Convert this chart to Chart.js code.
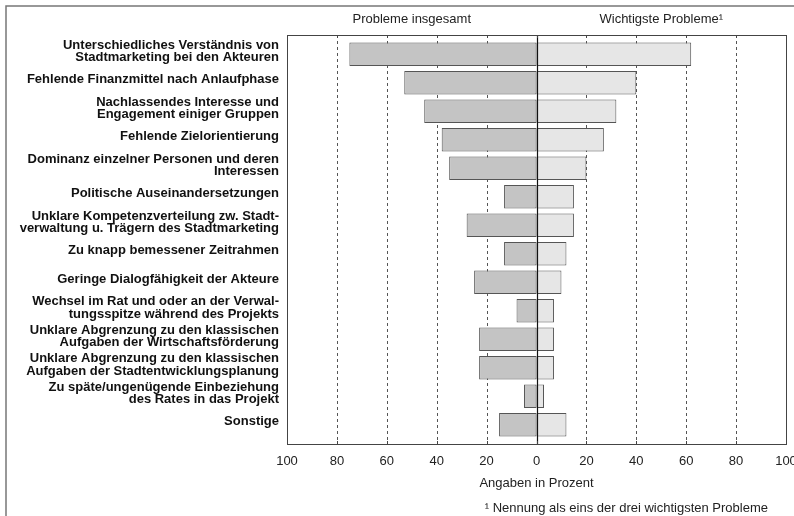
<!DOCTYPE html>
<html>
<head>
<meta charset="utf-8">
<script src="https://cdn.jsdelivr.net/npm/chart.js@4"></script>
<style>
  html, body { margin: 0; padding: 0; background: #fff; }
  #wrap { width: 794px; height: 516px; position: relative; }
</style>
</head>
<body>
<div id="wrap"><canvas id="myChart" width="794" height="516"></canvas></div>
<script>
// categories (multi-line labels as in the original)
const problems = [
    ['Unterschiedliches Verständnis von', 'Stadtmarketing bei den Akteuren'],
    'Fehlende Finanzmittel nach Anlaufphase',
    ['Nachlassendes Interesse und', 'Engagement einiger Gruppen'],
    'Fehlende Zielorientierung',
    ['Dominanz einzelner Personen und deren', 'Interessen'],
    'Politische Auseinandersetzungen',
    ['Unklare Kompetenzverteilung zw. Stadt-', 'verwaltung u. Trägern des Stadtmarketing'],
    'Zu knapp bemessener Zeitrahmen',
    'Geringe Dialogfähigkeit der Akteure',
    ['Wechsel im Rat und oder an der Verwal-', 'tungsspitze während des Projekts'],
    ['Unklare Abgrenzung zu den klassischen', 'Aufgaben der Wirtschaftsförderung'],
    ['Unklare Abgrenzung zu den klassischen', 'Aufgaben der Stadtentwicklungsplanung'],
    ['Zu späte/ungenügende Einbeziehung', 'des Rates in das Projekt'],
    'Sonstige'
];

// percentages
const insgesamt = [75, 53, 45, 38, 35, 13, 28, 13, 25, 8, 23, 23, 5, 15];
const wichtigste = [62, 40, 32, 27, 20, 15, 15, 12, 10, 7, 7, 7, 3, 12];

const xTicks = [-100, -80, -60, -40, -20, 0, 20, 40, 60, 80, 100];

const headerLeft = 'Probleme insgesamt';
const headerRight = 'Wichtigste Probleme¹';
const axisTitle = 'Angaben in Prozent';
const footnote = '¹ Nennung als eins der drei wichtigsten Probleme';

const FONT = '"Liberation Sans", Arial, sans-serif';

// frame, grid and texts drawn around the plot
const decoPlugin = {
    id: 'deco',
    beforeDatasetsDraw(chart) {
        const c = chart.ctx;
        const xs = chart.scales.x;
        const area = chart.chartArea;
        const top = area.top - 5, bottom = area.bottom + 5;
        c.save();
        // dashed grid
        c.strokeStyle = '#555';
        c.lineWidth = 1;
        c.setLineDash([3, 3]);
        xTicks.forEach(v => {
            if (v === 0 || Math.abs(v) === 100) return;
            const x = Math.round(xs.getPixelForValue(v)) + 0.5;
            c.beginPath();
            c.moveTo(x, top);
            c.lineTo(x, bottom);
            c.stroke();
        });
        c.restore();
    },
    afterDatasetsDraw(chart) {
        const c = chart.ctx;
        const xs = chart.scales.x;
        const area = chart.chartArea;
        const top = area.top - 5, bottom = area.bottom + 5;
        c.save();
        // zero line
        const x0 = Math.round(xs.getPixelForValue(0)) + 0.5;
        c.strokeStyle = '#111';
        c.lineWidth = 1.2;
        c.beginPath();
        c.moveTo(x0, top);
        c.lineTo(x0, bottom);
        c.stroke();
        // plot box
        c.strokeStyle = '#444';
        c.lineWidth = 1;
        c.strokeRect(Math.round(area.left) + 0.5, top + 0.5, Math.round(area.right - area.left), bottom - top);
        // small ticks at top and bottom
        xTicks.forEach(v => {
            const x = Math.round(xs.getPixelForValue(v)) + 0.5;
            c.beginPath();
            c.moveTo(x, top);
            c.lineTo(x, top + 3);
            c.moveTo(x, bottom);
            c.lineTo(x, bottom - 3);
            c.stroke();
        });
        // outer frame (open at right and bottom)
        c.strokeStyle = '#777';
        c.lineWidth = 1.5;
        c.beginPath();
        c.moveTo(6, 516);
        c.lineTo(6, 6);
        c.lineTo(794, 6);
        c.stroke();
        // headers
        c.fillStyle = '#222';
        c.font = '13px ' + FONT;
        c.textAlign = 'center';
        c.textBaseline = 'middle';
        c.fillText(headerLeft, xs.getPixelForValue(-50), 19);
        c.fillText(headerRight, xs.getPixelForValue(50), 19);
        // footnote
        c.textAlign = 'right';
        c.fillText(footnote, 768, 508);
        c.restore();
    }
};

const ctx = document.getElementById('myChart').getContext('2d');
const myChart = new Chart(ctx, {
    type: 'bar',
    data: {
        labels: problems,
        datasets: [
            {
                label: headerLeft,
                data: insgesamt.map(v => -v),
                backgroundColor: '#c4c4c4',
                borderColor: '#555',
                borderWidth: 1,
                borderSkipped: false,
                barPercentage: 0.82,
                categoryPercentage: 1
            },
            {
                label: headerRight,
                data: wichtigste,
                backgroundColor: '#e6e6e6',
                borderColor: '#555',
                borderWidth: 1,
                borderSkipped: false,
                barPercentage: 0.82,
                categoryPercentage: 1
            }
        ]
    },
    options: {
        indexAxis: 'y',
        responsive: false,
        animation: false,
        layout: { padding: { top: 40, right: 8, bottom: 0, left: 0 } },
        plugins: {
            legend: { display: false },
            tooltip: { enabled: false }
        },
        scales: {
            x: {
                type: 'linear',
                min: -100,
                max: 100,
                stacked: true,
                afterBuildTicks: scale => { scale.ticks = xTicks.map(v => ({ value: v })); },
                afterFit: scale => {
                    scale.height = 77;
                    scale.paddingLeft = 0;
                    scale.paddingRight = 0;
                },
                grid: { display: false, drawTicks: false },
                border: { display: false },
                ticks: {
                    padding: 15,
                    color: '#222',
                    font: { family: FONT, size: 13 },
                    callback: v => Math.abs(v)
                },
                title: {
                    display: true,
                    text: axisTitle,
                    color: '#222',
                    font: { family: FONT, size: 13 },
                    padding: { top: 0, bottom: 25 }
                }
            },
            y: {
                stacked: true,
                afterFit: scale => {
                    scale.width = 287;
                    scale.paddingTop = 0;
                    scale.paddingBottom = 0;
                },
                grid: { display: false, drawTicks: false },
                border: { display: false },
                ticks: {
                    padding: 8,
                    labelOffset: -3,
                    color: '#111',
                    font: { family: FONT, size: 13, weight: 'bold', lineHeight: 0.97 }
                }
            }
        }
    },
    plugins: [decoPlugin]
});
</script>
</body>
</html>
